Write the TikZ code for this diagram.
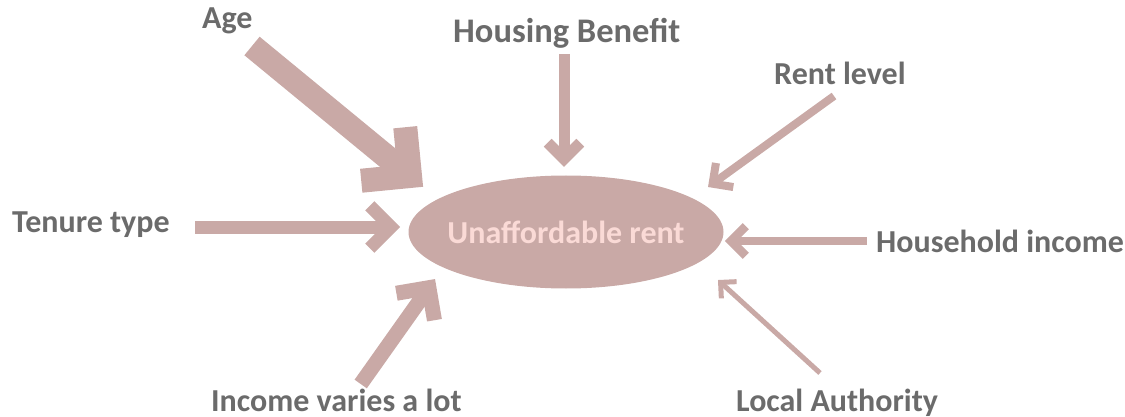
\documentclass[tikz,border=0pt]{standalone}
\usepackage{fontspec}
\setmainfont{Carlito}
\usetikzlibrary{calc,shapes.geometric}
\definecolor{arrc}{HTML}{C9A9A6}
\definecolor{txtc}{HTML}{6B6B6B}
\definecolor{inner}{HTML}{FADAD6}
\tikzset{
  arr/.style={draw=arrc, line cap=butt},
  lbl/.style={font=\bfseries\fontsize{32}{36}\selectfont, text=txtc, inner sep=0pt, anchor=base west},
}
\newcommand{\fatarrow}[4]{%
  \draw[arr, line width=#3] (#1) -- (#2);
  \draw[arr, line width=#3, line join=miter] ($(#2)!#4!45:(#1)$) -- (#2) -- ($(#2)!#4!-45:(#1)$);
}
\begin{document}
\begin{tikzpicture}[x=1pt,y=-1pt]
\useasboundingbox (0,0) rectangle (1125,417);
\node[ellipse, fill=arrc, minimum width=315pt, minimum height=113pt, inner sep=0pt] (ur) at (566,232) {};
\node[text=inner, inner sep=0pt, font=\bfseries\fontsize{32}{36}\selectfont] (urt) at (ur.center) {Unaffordable rent};
\node[lbl] (age) at (202,29) {Age};
\node[lbl, font=\bfseries\fontsize{34.5}{38}\selectfont] (hb) at (453,43) {Housing Benefit};
\node[lbl] (rl) at (774,85) {Rent level};
\node[lbl] (tt) at (12,233) {Tenure type};
\node[lbl] (hi) at (876,252) {Household income};
\node[lbl, text depth=0pt] (iv) at (211,411) {Income varies a lot};
\node[lbl, text depth=0pt] (la) at (736,411) {Local Authority};
% arrow coordinates
\coordinate (a1s) at (252,46);   \coordinate (a1e) at (410,176);
\coordinate (a2s) at (564,54);   \coordinate (a2e) at (564,159);
\coordinate (a3s) at (834,96);   \coordinate (a3e) at (712.6,183.7);
\coordinate (a4s) at (195,227);  \coordinate (a4e) at (391,227);
\coordinate (a5s) at (867,241);  \coordinate (a5e) at (731,241);
\coordinate (a6s) at (360.7,384);\coordinate (a6e) at (428.9,287.7);
\coordinate (a7s) at (820,373);  \coordinate (a7e) at (720.6,282.4);
\fatarrow{a1s}{a1e}{24pt}{49pt}
\fatarrow{a2s}{a2e}{11pt}{23pt}
\fatarrow{a3s}{a3e}{8pt}{21pt}
\fatarrow{a4s}{a4e}{13pt}{30pt}
\fatarrow{a5s}{a5e}{8.5pt}{21pt}
\fatarrow{a6s}{a6e}{15pt}{33pt}
\fatarrow{a7s}{a7e}{5pt}{16pt}
\end{tikzpicture}
\end{document}
